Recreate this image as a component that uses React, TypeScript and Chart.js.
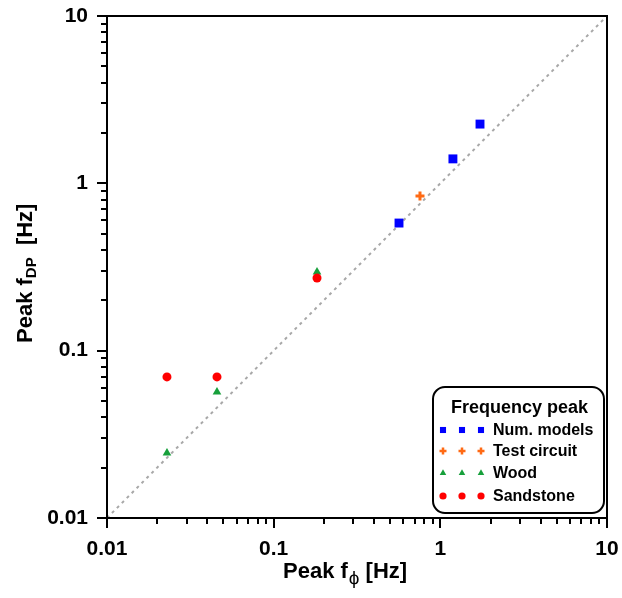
import React, { useEffect, useRef } from 'react';
import { Chart, registerables } from 'chart.js';

Chart.register(...registerables);

// ---- data ----
const NUM_X = [0.565, 1.19, 1.73];
const NUM_Y = [0.579, 1.4, 2.26];
const TEST_X = [0.755];
const TEST_Y = [0.84];
const WOOD_X = [0.0229, 0.0457, 0.182];
const WOOD_Y = [0.0245, 0.0566, 0.295];
const SAND_X = [0.0229, 0.0457, 0.182];
const SAND_Y = [0.0697, 0.0697, 0.272];
const DIAG = [0.01, 10];

const AXIS_MIN = 0.01;
const AXIS_MAX = 10;
const MAJOR_TICKS = [0.01, 0.1, 1, 10];
const MAJOR_LABELS = ['0.01', '0.1', '1', '10'];
const MINOR_STEPS = [2, 3, 4, 5, 6, 7, 8, 9];

const SERIES_NAMES = ['Num. models', 'Test circuit', 'Wood', 'Sandstone'];
const LEGEND_TITLE = 'Frequency peak';
const X_TITLE = ['Peak f', 'ϕ', ' [Hz]'];
const Y_TITLE = ['Peak f', 'DP', '  [Hz]'];

const BLUE = '#0000ff';
const ORANGE = '#ff6a14';
const GREEN = '#17a03b';
const RED = '#ff0000';
const FONT = '"Liberation Sans", Arial, Helvetica, sans-serif';

const toPts = (xs: number[], ys: number[]) => xs.map((x, i) => ({ x, y: ys[i] }));

const allTickValues = (): number[] => {
  const out: number[] = [];
  for (let d = 0; d < MAJOR_TICKS.length; d++) {
    out.push(MAJOR_TICKS[d]);
    if (d < MAJOR_TICKS.length - 1) {
      for (const m of MINOR_STEPS) out.push(parseFloat((MAJOR_TICKS[d] * m).toPrecision(6)));
    }
  }
  return out;
};

const majorIndex = (v: number) =>
  MAJOR_TICKS.findIndex((m) => Math.abs(Math.log10(m) - Math.log10(v)) < 1e-6);

function drawMarker(ctx: CanvasRenderingContext2D, style: string, x: number, y: number, r: number, color: string) {
  ctx.save();
  ctx.fillStyle = color;
  ctx.strokeStyle = color;
  ctx.beginPath();
  if (style === 'rect') {
    const s = r * Math.SQRT1_2;
    ctx.rect(x - s, y - s, 2 * s, 2 * s);
    ctx.fill();
  } else if (style === 'circle') {
    ctx.arc(x, y, r, 0, Math.PI * 2);
    ctx.fill();
  } else if (style === 'triangle') {
    for (let k = 0; k < 3; k++) {
      const a = (k * 2 * Math.PI) / 3;
      const px = x + Math.sin(a) * r;
      const py = y - Math.cos(a) * r;
      if (k === 0) ctx.moveTo(px, py);
      else ctx.lineTo(px, py);
    }
    ctx.closePath();
    ctx.fill();
  } else if (style === 'cross') {
    ctx.lineWidth = 2.5;
    ctx.moveTo(x - r, y);
    ctx.lineTo(x + r, y);
    ctx.moveTo(x, y - r);
    ctx.lineTo(x, y + r);
    ctx.stroke();
  }
  ctx.restore();
}

const framePlugin = {
  id: 'frameAndExtras',
  afterDraw(chart: any) {
    const ctx: CanvasRenderingContext2D = chart.ctx;
    const { left, right, top, bottom } = chart.chartArea;
    const xs = chart.scales.x;
    const ys = chart.scales.y;
    ctx.save();
    ctx.strokeStyle = '#000';
    ctx.lineWidth = 2;
    ctx.strokeRect(left, top, right - left, bottom - top);
    ctx.beginPath();
    xs.ticks.forEach((t: any) => {
      const px = Math.round(xs.getPixelForValue(t.value));
      const len = majorIndex(t.value) >= 0 ? 10 : 6;
      ctx.moveTo(px, bottom);
      ctx.lineTo(px, bottom + len);
    });
    ys.ticks.forEach((t: any) => {
      const py = Math.round(ys.getPixelForValue(t.value));
      const len = majorIndex(t.value) >= 0 ? 10 : 6;
      ctx.moveTo(left, py);
      ctx.lineTo(left - len, py);
    });
    ctx.stroke();

    // axis titles
    ctx.fillStyle = '#000';
    ctx.textAlign = 'left';
    ctx.textBaseline = 'alphabetic';
    let x = 283;
    const by = 578;
    ctx.font = `bold 22px ${FONT}`;
    ctx.fillText(X_TITLE[0], x, by);
    x += ctx.measureText(X_TITLE[0]).width + 1;
    ctx.font = `19px ${FONT}`;
    ctx.fillText(X_TITLE[1], x, by + 6);
    x += ctx.measureText(X_TITLE[1]).width;
    ctx.font = `bold 22px ${FONT}`;
    ctx.fillText(X_TITLE[2], x, by);

    ctx.save();
    ctx.translate(32, 343);
    ctx.rotate(-Math.PI / 2);
    let yy = 0;
    ctx.font = `bold 22px ${FONT}`;
    ctx.fillText(Y_TITLE[0], yy, 0);
    yy += ctx.measureText(Y_TITLE[0]).width;
    ctx.font = `bold 15px ${FONT}`;
    ctx.fillText(Y_TITLE[1], yy, 4);
    yy += ctx.measureText(Y_TITLE[1]).width;
    ctx.font = `bold 22px ${FONT}`;
    ctx.fillText(Y_TITLE[2], yy, 0);
    ctx.restore();

    // legend
    const lx = 433, ly = 387, lw = 171, lh = 126;
    ctx.beginPath();
    (ctx as any).roundRect(lx, ly, lw, lh, 12);
    ctx.fillStyle = '#fff';
    ctx.fill();
    ctx.lineWidth = 2;
    ctx.strokeStyle = '#000';
    ctx.stroke();
    ctx.fillStyle = '#000';
    ctx.font = `bold 18px ${FONT}`;
    ctx.textAlign = 'center';
    ctx.fillText(LEGEND_TITLE, lx + lw / 2 + 1, 413);
    const styles = [
      ['rect', 4.3, BLUE],
      ['cross', 3.5, ORANGE],
      ['triangle', 3.8, GREEN],
      ['circle', 3.6, RED],
    ] as const;
    const rowY = [430, 451, 473, 496];
    const mx = [443, 462, 481];
    ctx.font = `bold 16px ${FONT}`;
    ctx.textAlign = 'left';
    ctx.textBaseline = 'middle';
    SERIES_NAMES.forEach((name, i) => {
      const [st, r, col] = styles[i];
      mx.forEach((m) => drawMarker(ctx, st, m, rowY[i], r, col));
      ctx.fillStyle = '#000';
      ctx.fillText(name, 493, rowY[i] + 1);
    });
    ctx.restore();
  },
};

export default function App() {
  const ref = useRef<HTMLCanvasElement | null>(null);
  useEffect(() => {
    if (!ref.current) return;
    Chart.defaults.font.family = FONT;
    const tickVals = allTickValues();
    const scaleCommon = (axis: 'x' | 'y') => ({
      type: 'logarithmic' as const,
      min: AXIS_MIN,
      max: AXIS_MAX,
      position: axis === 'x' ? 'bottom' : 'left',
      grid: { display: false, drawTicks: false, tickLength: 0 },
      border: { display: false },
      title: { display: false },
      afterBuildTicks: (scale: any) => {
        scale.ticks = tickVals.map((v) => ({ value: v }));
      },
      afterFit: (scale: any) => {
        if (axis === 'x') scale.height = 80;
        else scale.width = 107;
        scale.paddingLeft = 0;
        scale.paddingRight = 0;
        scale.paddingTop = 0;
        scale.paddingBottom = 0;
      },
      ticks: {
        autoSkip: false,
        maxRotation: 0,
        minRotation: 0,
        padding: 19,
        color: '#000',
        font: { size: 21, weight: 'bold' as const, family: FONT },
        callback: (v: any) => {
          const idx = majorIndex(Number(v));
          return idx >= 0 ? MAJOR_LABELS[idx] : '';
        },
      },
    });
    const chart = new Chart(ref.current, {
      type: 'scatter',
      data: {
        datasets: [
          {
            label: SERIES_NAMES[0],
            data: toPts(NUM_X, NUM_Y),
            pointStyle: 'rect',
            pointRadius: 6.3,
            backgroundColor: BLUE,
            borderColor: BLUE,
            borderWidth: 0,
          },
          {
            label: SERIES_NAMES[1],
            data: toPts(TEST_X, TEST_Y),
            pointStyle: 'cross',
            pointRadius: 4.5,
            backgroundColor: ORANGE,
            borderColor: ORANGE,
            borderWidth: 3,
          },
          {
            label: SERIES_NAMES[3],
            data: toPts(SAND_X, SAND_Y),
            pointStyle: 'circle',
            pointRadius: 4.5,
            backgroundColor: RED,
            borderColor: RED,
            borderWidth: 0,
          },
          {
            label: SERIES_NAMES[2],
            data: toPts(WOOD_X, WOOD_Y),
            pointStyle: 'triangle',
            pointRadius: 5,
            backgroundColor: GREEN,
            borderColor: GREEN,
            borderWidth: 0,
          },
          {
            label: 'y = x',
            type: 'line',
            data: toPts(DIAG, DIAG),
            showLine: true,
            pointRadius: 0,
            borderColor: '#a8a8a8',
            borderWidth: 2,
            borderDash: [3, 4],
            fill: false,
          } as any,
        ],
      },
      options: {
        responsive: false,
        animation: false,
        devicePixelRatio: 1,
        layout: { autoPadding: false, padding: { left: 0, right: 15, top: 16, bottom: 0 } },
        plugins: { legend: { display: false }, tooltip: { enabled: false }, title: { display: false } },
        scales: { x: scaleCommon('x') as any, y: scaleCommon('y') as any },
      },
      plugins: [framePlugin],
    });
    return () => chart.destroy();
  }, []);
  return (
    <div style={{ position: 'fixed', left: 0, top: 0, width: 622, height: 598, background: '#fff' }}>
      <canvas ref={ref} width={622} height={598} style={{ width: 622, height: 598, display: 'block' }} />
    </div>
  );
}
